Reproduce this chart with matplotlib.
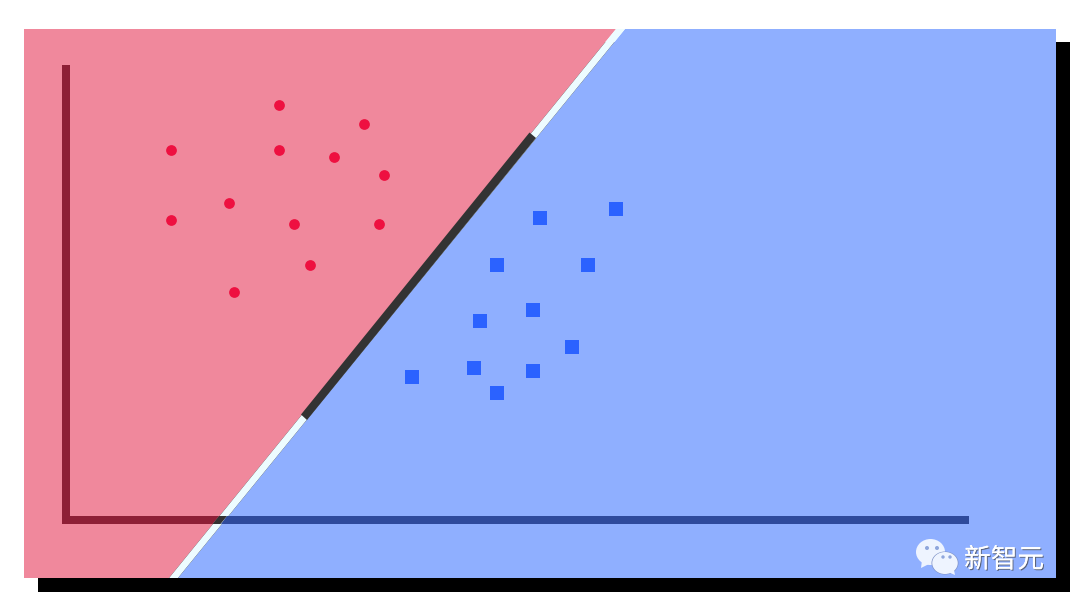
import matplotlib
matplotlib.use("Agg")
import matplotlib.pyplot as plt
import matplotlib.patheffects as pe
from matplotlib.patches import Polygon, Rectangle, Ellipse

plt.rcParams['font.family'] = ['Noto Sans CJK SC', 'DejaVu Sans']

red_x = [171, 171, 229, 234, 279, 279, 294, 310, 334, 364, 384, 379]
red_y = [150, 220, 203, 292, 104.5, 150, 223.5, 264.5, 157, 123.5, 174.5, 223.5]
blue_x = [539.5, 616, 496.5, 588, 533, 480, 572, 473.5, 533, 496.5, 412]
blue_y = [218, 208.5, 264.5, 264.5, 309.5, 321, 347, 367.5, 370.5, 392.5, 377]
watermark = "新智元"

PANEL_RED = "#F0889C"
PANEL_BLUE = "#8FAFFF"
BAND = "#EDFCFF"
P_RED = "#EE1040"
P_BLUE = "#2B62FF"

fig = plt.figure(figsize=(10.8, 6.07), dpi=100, facecolor="white")
ax = fig.add_axes([0, 0, 1, 1])
ax.set_xlim(0, 1080)
ax.set_ylim(607, 0)
ax.axis("off")

# shadow
ax.add_patch(Rectangle((38, 42), 1032, 550, fc="black", ec="none", zorder=1))
# panels
ax.add_patch(Polygon([(24, 29), (616, 29), (169, 578), (24, 578)], fc=PANEL_RED, ec="none", zorder=2))
ax.add_patch(Polygon([(625, 29), (1056, 29), (1056, 578), (178, 578)], fc=PANEL_BLUE, ec="none", zorder=2))
ax.add_patch(Polygon([(616, 29), (625, 29), (178, 578), (169, 578)], fc=BAND, ec="none", zorder=3))

# axes lines
ax.add_patch(Rectangle((62, 65), 8, 459, fc="#8E1F36", ec="none", zorder=4))
ax.add_patch(Polygon([(62, 516), (219, 516), (212.5, 524), (62, 524)], fc="#8E1F36", ec="none", zorder=4))
ax.add_patch(Polygon([(227, 516), (969, 516), (969, 524), (220.5, 524)], fc="#2E4A9C", ec="none", zorder=4))
ax.add_patch(Polygon([(219, 516), (227, 516), (220.5, 524), (212.5, 524)], fc="#333333", ec="none", zorder=4))

# decision boundary segment
ax.add_patch(Polygon([(529.5, 132.5), (536, 138), (307, 420), (301, 414.5)], fc="#333333", ec="none", zorder=4))

# points
ax.scatter(red_x, red_y, s=60, marker="o", c=P_RED, linewidths=0, zorder=5)
ax.scatter(blue_x, blue_y, s=88, marker="s", c=P_BLUE, linewidths=0, zorder=5)

# WeChat-style logo
ic = "#EEF4FF"
ax.add_patch(Ellipse((930.5, 552), 29, 26, fc=ic, ec="none", zorder=6))
ax.add_patch(Polygon([(922, 560), (929, 564), (921, 568)], fc=ic, ec="none", zorder=6))
ax.add_patch(Ellipse((945, 563), 27, 23, fc="#7F93C8", ec="none", zorder=6))
ax.add_patch(Ellipse((945, 563), 25.5, 22, fc=ic, ec="none", zorder=7))
ax.add_patch(Polygon([(948, 572), (954, 570), (955, 575)], fc=ic, ec="none", zorder=7))
for cx, cy, r in [(927, 548, 2), (937, 548, 2), (943, 557, 1.7), (950, 557, 1.7)]:
    ax.add_patch(Ellipse((cx, cy), 2 * r, 2 * r, fc="#8FA6DC", ec="none", zorder=8))

ax.text(1004, 560, watermark, fontsize=19.2, color="white", ha="center", va="center", zorder=8,
        path_effects=[pe.withSimplePatchShadow(offset=(0.8, -0.8), shadow_rgbFace="#444444", alpha=0.7), pe.Normal()])

fig.savefig("out.png", dpi=100, facecolor="white")
